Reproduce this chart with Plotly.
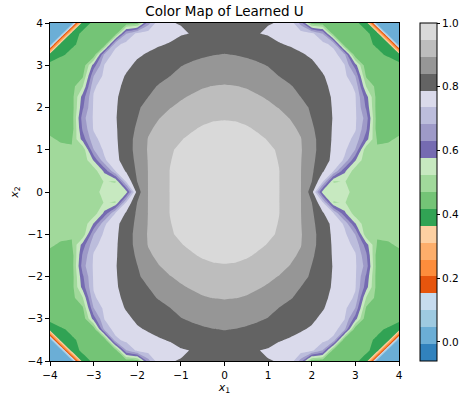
import plotly.graph_objects as go

# ---------------- data ----------------
# Grid positions of one quadrant (x1 >= 0, x2 >= 0); the field is mirror-symmetric.
quad_pos = [0.0, 0.25, 0.5, 0.75, 1.0, 1.25, 1.5, 1.75, 2.0, 2.25, 2.5, 2.75, 3.0, 3.25, 3.5, 3.75, 4.0]

# U values along x1 = quad_pos, one list per x2 row
u_x2_000 = [.985, .984, .981, .975, .965, .948, .921, .895, .815, .553, .550, .535, .510, .500, .495, .490, .490]
u_x2_025 = [.984, .983, .980, .974, .964, .948, .920, .895, .842, .744, .519, .525, .505, .498, .493, .490, .490]
u_x2_050 = [.983, .982, .979, .973, .963, .948, .921, .895, .850, .795, .736, .590, .490, .485, .485, .488, .490]
u_x2_075 = [.982, .981, .978, .971, .960, .945, .920, .896, .855, .809, .776, .727, .580, .480, .485, .488, .490]
u_x2_100 = [.981, .980, .976, .969, .957, .941, .919, .898, .859, .816, .778, .747, .680, .480, .475, .480, .485]
u_x2_125 = [.979, .977, .972, .960, .944, .928, .912, .896, .858, .816, .781, .757, .720, .600, .465, .465, .475]
u_x2_150 = [.975, .970, .955, .940, .929, .917, .904, .887, .849, .814, .783, .761, .740, .640, .440, .450, .460]
u_x2_175 = [.940, .937, .930, .922, .913, .904, .893, .868, .840, .812, .785, .763, .742, .660, .440, .445, .450]
u_x2_200 = [.918, .916, .912, .906, .900, .893, .877, .857, .834, .808, .784, .763, .742, .620, .440, .445, .450]
u_x2_225 = [.908, .906, .902, .897, .891, .878, .862, .841, .822, .803, .783, .761, .739, .600, .445, .450, .450]
u_x2_250 = [.897, .895, .892, .886, .876, .862, .845, .830, .814, .797, .779, .757, .728, .520, .450, .450, .450]
u_x2_275 = [.880, .878, .873, .866, .855, .840, .828, .816, .804, .791, .773, .749, .680, .460, .445, .435, .430]
u_x2_300 = [.862, .860, .855, .848, .839, .828, .817, .806, .795, .780, .760, .738, .600, .430, .430, .425, .420]
u_x2_325 = [.843, .840, .835, .828, .820, .811, .801, .792, .783, .772, .756, .700, .430, .425, .420, .415, .410]
u_x2_350 = [.823, .821, .816, .809, .800, .791, .784, .776, .766, .752, .720, .430, .425, .420, .415, .410, .000]
u_x2_375 = [.800, .798, .794, .789, .785, .775, .768, .760, .748, .680, .440, .430, .425, .420, .410, .000, .020]
u_x2_400 = [.793, .792, .791, .790, .789, .787, .775, .660, .440, .435, .430, .425, .420, .410, .000, .020, .030]

# contour levels (20 bands)
level_start = -0.06
level_end = 1.0
level_step = 0.053

# tab20c colours, lowest band first
band_colors = ["#3182bd", "#6baed6", "#9ecae1", "#c6dbef",
               "#e6550d", "#fd8d3c", "#fdae6b", "#fdd0a2",
               "#31a354", "#74c476", "#a1d99b", "#c7e9c0",
               "#756bb1", "#9e9ac8", "#bcbddc", "#dadaeb",
               "#636363", "#969696", "#bdbdbd", "#d9d9d9"]

axis_tick_vals = [-4, -3, -2, -1, 0, 1, 2, 3, 4]
axis_tick_text = ["\u22124", "\u22123", "\u22122", "\u22121", "0", "1", "2", "3", "4"]
cbar_tick_vals = [0.0, 0.2, 0.4, 0.6, 0.8, 1.0]
cbar_tick_text = ["0.0", "0.2", "0.4", "0.6", "0.8", "1.0"]

# ---------------- build full grid by mirroring ----------------
quad_rows = [u_x2_000, u_x2_025, u_x2_050, u_x2_075, u_x2_100, u_x2_125, u_x2_150,
             u_x2_175, u_x2_200, u_x2_225, u_x2_250, u_x2_275, u_x2_300, u_x2_325,
             u_x2_350, u_x2_375, u_x2_400]

full_pos = [-p for p in reversed(quad_pos[1:])] + quad_pos
half_rows = [list(reversed(r[1:])) + list(r) for r in quad_rows]
z_full = list(reversed(half_rows[1:])) + half_rows

# colour map for the contour fills (plotly evaluates band j at (j+1)/n_c)
n_c = int(round((level_end - level_start) / level_step)) + 1
contour_scale = []
for k in range(n_c + 1):
    idx = min(max(k - 1, 0), len(band_colors) - 1)
    contour_scale.append([k / n_c, band_colors[idx]])

# stepped colour scale for the colour bar (exactly level_start .. level_end)
n_b = len(band_colors)
bar_scale = []
for i, c in enumerate(band_colors):
    bar_scale.append([i / n_b, c])
    bar_scale.append([(i + 1) / n_b, c])

FONT = "DejaVu Sans"

fig = go.Figure()
fig.add_trace(go.Contour(
    x=full_pos, y=full_pos, z=z_full,
    colorscale=contour_scale,
    autocontour=False,
    contours=dict(start=level_start, end=level_end, size=level_step,
                  coloring="fill", showlines=False),
    line=dict(width=0, smoothing=0),
    showscale=False,
    hoverinfo="skip",
))

# colour bar carrier (its single point lies outside the visible axes)
fig.add_trace(go.Scatter(
    x=[100], y=[100], mode="markers", hoverinfo="skip", showlegend=False,
    marker=dict(
        color=[level_start], cmin=level_start, cmax=level_end,
        colorscale=bar_scale, showscale=True,
        colorbar=dict(
            x=1.06, xanchor="left", xpad=0, ypad=0,
            y=0.5, yanchor="middle", len=1.0, lenmode="fraction",
            thickness=17, outlinecolor="black", outlinewidth=1,
            tickvals=cbar_tick_vals, ticktext=cbar_tick_text,
            ticks="outside", ticklen=3, tickcolor="black",
            tickfont=dict(family=FONT, size=10.5, color="black"),
        ),
    ),
))

axis_common = dict(
    range=[-4, 4], tickvals=axis_tick_vals, ticktext=axis_tick_text,
    ticks="outside", ticklen=4, tickcolor="black",
    showline=True, linecolor="black", linewidth=1, mirror=True,
    showgrid=False, zeroline=False,
    tickfont=dict(family=FONT, size=10.5, color="black"),
)

fig.update_layout(
    width=465, height=400,
    margin=dict(l=50, r=66, t=23, b=39, autoexpand=False),
    paper_bgcolor="white", plot_bgcolor="white",
    font=dict(family=FONT, color="black"),
    showlegend=False,
    title=dict(text="Color Map of Learned U", x=0.5, xref="paper", xanchor="center",
               y=1 - 11 / 400, yanchor="middle",
               font=dict(family=FONT, size=13.5, color="black")),
    xaxis=dict(axis_common, title=dict(text="<i>x</i><sub>1</sub>", standoff=2,
                                       font=dict(family=FONT, size=11, color="black"))),
    yaxis=dict(axis_common, title=dict(text="<i>x</i><sub>2</sub>", standoff=6,
                                       font=dict(family=FONT, size=11, color="black"))),
)

fig.write_html("out.html", config={"displayModeBar": False},
               post_script="document.body.style.margin='0';document.body.style.padding='0';")
